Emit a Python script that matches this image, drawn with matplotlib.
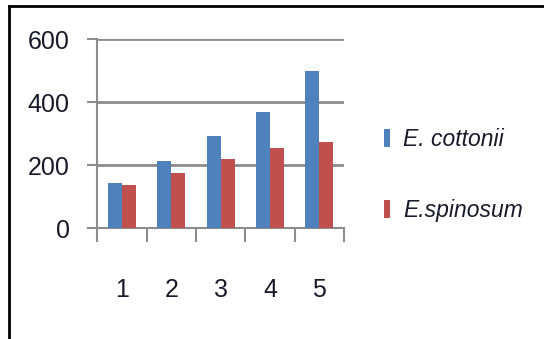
import matplotlib
matplotlib.use('Agg')
import matplotlib.pyplot as plt
from matplotlib.lines import Line2D
import numpy as np

plt.rcParams['font.family'] = ['Liberation Sans', 'DejaVu Sans']

# data
categories = ['1', '2', '3', '4', '5']
cottonii = [145, 213, 295, 370, 500]
spinosum = [138, 176, 221, 257, 273]
series_names = ['E. cottonii', 'E.spinosum']
yticks = [0, 200, 400, 600]

blue = '#4F81BD'
red = '#C0504D'
grey = '#8c8c8c'
txt = '#1a1a2a'

fig = plt.figure(figsize=(5.44, 3.39), dpi=100)
ax = fig.add_axes([0.1789, 0.326, 0.4535, 0.5575])

x = np.arange(1, len(categories) + 1)
w = 0.286
ax.bar(x - w / 2, cottonii, width=w, color=blue, label=series_names[0], zorder=3)
ax.bar(x + w / 2, spinosum, width=w, color=red, label=series_names[1], zorder=3)

ax.set_xlim(0.5, len(categories) + 0.5)
ax.set_ylim(0, 600)
ax.set_yticks(yticks)
ax.set_yticklabels([str(v) for v in yticks])
ax.set_xticks(x)
ax.set_xticklabels(categories)
ax.set_xticks(np.arange(0.5, len(categories) + 1), minor=True)

ax.grid(axis='y', color=grey, linewidth=2, zorder=0)
ax.grid(axis='x', visible=False)
for s in ['top', 'right']:
    ax.spines[s].set_visible(False)
for s in ['left', 'bottom']:
    ax.spines[s].set_color(grey)
    ax.spines[s].set_linewidth(1.5)

ax.tick_params(axis='y', length=7, width=1.5, color=grey, pad=13,
               labelsize=18, labelcolor=txt)
ax.tick_params(axis='x', which='major', length=0, pad=36,
               labelsize=18, labelcolor=txt)
ax.tick_params(axis='x', which='minor', length=10, width=1.5, color=grey)

leg = ax.legend(loc='center left', bbox_to_anchor=(384 / 544, 1 - 175 / 339),
                bbox_transform=fig.transFigure, frameon=False, fontsize=16.5,
                handlelength=0.28, handleheight=0.8, handletextpad=0.55,
                labelspacing=2.1, borderpad=0, borderaxespad=0)
for t in leg.get_texts():
    t.set_style('italic')
    t.set_color(txt)

# outer frame (top and left edges)
fig.add_artist(Line2D([8.5 / 544, 1], [1 - 6 / 339, 1 - 6 / 339],
                      transform=fig.transFigure, color='black', linewidth=2))
fig.add_artist(Line2D([8.5 / 544, 8.5 / 544], [0, 1 - 6 / 339],
                      transform=fig.transFigure, color='black', linewidth=2))

fig.savefig('out.png', dpi=100)
